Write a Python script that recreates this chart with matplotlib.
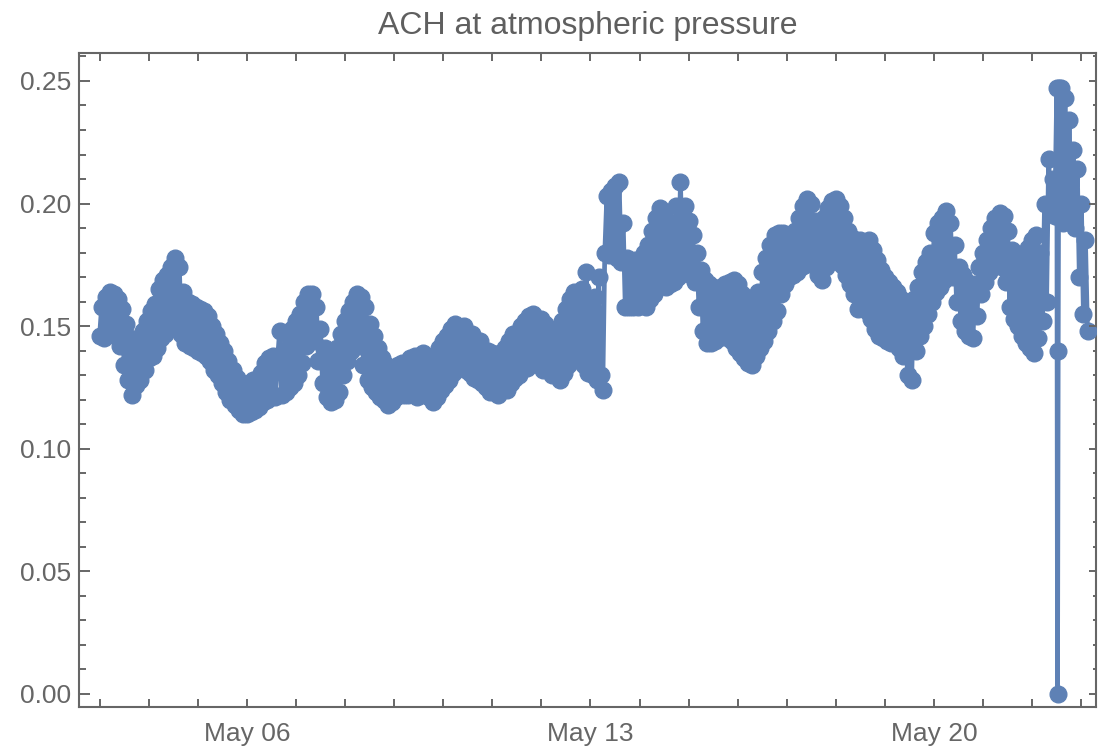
import matplotlib
matplotlib.use("Agg")
import matplotlib.pyplot as plt
import matplotlib.dates as mdates
from matplotlib.ticker import MultipleLocator, FormatStrFormatter
import pandas as pd

plt.rcParams['font.family'] = ['Liberation Sans', 'DejaVu Sans']

# Hourly air changes per hour, starting 2021-05-03 00:00
start_time = "2021-05-03 00:00"
step = "1h"
ach_may03 = [0.146, 0.158, 0.145, 0.162, 0.149, 0.164, 0.147, 0.163, 0.146, 0.161, 0.142, 0.157,
             0.134, 0.151, 0.128, 0.145, 0.122, 0.143, 0.126, 0.144, 0.128, 0.148, 0.132, 0.152]
ach_may04 = [0.137, 0.156, 0.138, 0.159, 0.141, 0.165, 0.145, 0.169, 0.147, 0.171, 0.149, 0.174,
             0.152, 0.178, 0.151, 0.174, 0.147, 0.164, 0.143, 0.160, 0.142, 0.159, 0.141, 0.158]
ach_may05 = [0.140, 0.157, 0.139, 0.156, 0.138, 0.154, 0.136, 0.150, 0.132, 0.147, 0.130, 0.143,
             0.127, 0.140, 0.123, 0.136, 0.120, 0.132, 0.118, 0.129, 0.116, 0.127, 0.114, 0.126]
ach_may06 = [0.114, 0.127, 0.115, 0.128, 0.116, 0.128, 0.117, 0.131, 0.119, 0.135, 0.120, 0.137,
             0.121, 0.138, 0.121, 0.136, 0.148, 0.122, 0.140, 0.123, 0.146, 0.125, 0.149, 0.127]
ach_may07 = [0.152, 0.130, 0.155, 0.135, 0.160, 0.142, 0.163, 0.145, 0.163, 0.144, 0.158, 0.136,
             0.149, 0.127, 0.141, 0.121, 0.136, 0.119, 0.137, 0.120, 0.141, 0.123, 0.147, 0.130]
ach_may08 = [0.152, 0.136, 0.156, 0.140, 0.160, 0.143, 0.163, 0.142, 0.162, 0.134, 0.158, 0.128,
             0.151, 0.125, 0.146, 0.123, 0.141, 0.121, 0.137, 0.120, 0.134, 0.118, 0.132, 0.119]
ach_may09 = [0.133, 0.121, 0.134, 0.123, 0.135, 0.122, 0.133, 0.122, 0.137, 0.124, 0.138, 0.121,
             0.136, 0.122, 0.139, 0.125, 0.138, 0.121, 0.135, 0.119, 0.137, 0.121, 0.141, 0.124]
ach_may10 = [0.144, 0.126, 0.146, 0.128, 0.149, 0.131, 0.151, 0.133, 0.149, 0.134, 0.150, 0.132,
             0.147, 0.131, 0.147, 0.129, 0.144, 0.128, 0.144, 0.127, 0.140, 0.125, 0.140, 0.123]
ach_may11 = [0.139, 0.124, 0.137, 0.122, 0.139, 0.125, 0.141, 0.124, 0.144, 0.127, 0.147, 0.129,
             0.146, 0.130, 0.150, 0.133, 0.152, 0.133, 0.154, 0.136, 0.155, 0.135, 0.153, 0.134]
ach_may12 = [0.153, 0.132, 0.151, 0.133, 0.149, 0.130, 0.147, 0.131, 0.149, 0.128, 0.152, 0.131,
             0.157, 0.134, 0.161, 0.136, 0.164, 0.138, 0.163, 0.137, 0.165, 0.134, 0.172, 0.131]
ach_may13 = [0.160, 0.130, 0.162, 0.128, 0.170, 0.130, 0.124, 0.180, 0.203, 0.179, 0.205, 0.180,
             0.207, 0.178, 0.209, 0.176, 0.192, 0.158, 0.178, 0.158, 0.176, 0.158, 0.177, 0.158]
ach_may14 = [0.177, 0.159, 0.180, 0.158, 0.183, 0.161, 0.189, 0.163, 0.194, 0.166, 0.198, 0.167,
             0.195, 0.166, 0.190, 0.167, 0.192, 0.168, 0.199, 0.170, 0.209, 0.172, 0.199, 0.172]
ach_may15 = [0.193, 0.171, 0.187, 0.168, 0.180, 0.158, 0.173, 0.148, 0.169, 0.143, 0.167, 0.143,
             0.166, 0.144, 0.164, 0.145, 0.166, 0.146, 0.167, 0.145, 0.168, 0.144, 0.169, 0.141]
ach_may16 = [0.167, 0.139, 0.163, 0.137, 0.160, 0.135, 0.158, 0.134, 0.159, 0.138, 0.164, 0.141,
             0.172, 0.144, 0.178, 0.148, 0.183, 0.152, 0.187, 0.156, 0.188, 0.163, 0.188, 0.167]
ach_may17 = [0.187, 0.170, 0.186, 0.171, 0.189, 0.172, 0.194, 0.174, 0.199, 0.175, 0.202, 0.177,
             0.200, 0.176, 0.193, 0.171, 0.190, 0.169, 0.194, 0.174, 0.198, 0.176, 0.201, 0.178]
ach_may18 = [0.202, 0.178, 0.199, 0.175, 0.194, 0.171, 0.189, 0.167, 0.186, 0.163, 0.185, 0.157,
             0.185, 0.158, 0.184, 0.156, 0.185, 0.153, 0.181, 0.149, 0.177, 0.146, 0.173, 0.145]
ach_may19 = [0.170, 0.144, 0.168, 0.143, 0.166, 0.143, 0.164, 0.141, 0.161, 0.138, 0.156, 0.130,
             0.155, 0.128, 0.161, 0.140, 0.166, 0.146, 0.172, 0.150, 0.176, 0.155, 0.180, 0.160]
ach_may20 = [0.188, 0.164, 0.192, 0.166, 0.194, 0.169, 0.197, 0.171, 0.192, 0.170, 0.183, 0.160,
             0.174, 0.152, 0.171, 0.148, 0.168, 0.146, 0.166, 0.145, 0.167, 0.154, 0.174, 0.163]
ach_may21 = [0.180, 0.168, 0.185, 0.172, 0.190, 0.174, 0.194, 0.176, 0.196, 0.174, 0.195, 0.168,
             0.189, 0.158, 0.181, 0.153, 0.177, 0.150, 0.176, 0.146, 0.178, 0.143, 0.182, 0.141]
ach_may22 = [0.185, 0.139, 0.187, 0.145, 0.180, 0.152, 0.200, 0.160, 0.218, 0.200, 0.210, 0.195,
             0.247, 0.247, 0.247, 0.192, 0.243, 0.195, 0.234, 0.200, 0.222, 0.190, 0.214, 0.170]
ach_may23 = [0.200, 0.155, 0.185, 0.148]

# Sensor dropout readings on May 22
dropout_times = ["2021-05-22 12:20", "2021-05-22 12:40"]
dropout_values = [0.000, 0.140]

title = "ACH at atmospheric pressure"
line_color = "#5E81B5"
frame_color = "#666666"

values = (ach_may03 + ach_may04 + ach_may05 + ach_may06 + ach_may07 + ach_may08 +
          ach_may09 + ach_may10 + ach_may11 + ach_may12 + ach_may13 + ach_may14 +
          ach_may15 + ach_may16 + ach_may17 + ach_may18 + ach_may19 + ach_may20 +
          ach_may21 + ach_may22 + ach_may23)
series = pd.Series(values, index=pd.date_range(start_time, periods=len(values), freq=step))
dropouts = pd.Series(dropout_values, index=pd.to_datetime(dropout_times))
series = pd.concat([series, dropouts]).sort_index()

fig = plt.figure(figsize=(10.98, 7.51), dpi=100)
ax = fig.add_axes([0.0719, 0.0586, 0.9263, 0.8708])

ax.plot(series.index, series.values, '-o', color=line_color, lw=3.4,
        ms=12, mec=line_color, mfc=line_color, zorder=3)

ax.set_xlim(pd.Timestamp("2021-05-02 13:55"), pd.Timestamp("2021-05-23 07:10"))
ax.set_ylim(-0.0053, 0.2614)

ax.xaxis.set_major_locator(mdates.DayLocator(bymonthday=[6, 13, 20]))
ax.xaxis.set_minor_locator(mdates.DayLocator())
ax.xaxis.set_major_formatter(mdates.DateFormatter('%b %d'))
ax.yaxis.set_major_locator(MultipleLocator(0.05))
ax.yaxis.set_minor_locator(MultipleLocator(0.01))
ax.yaxis.set_major_formatter(FormatStrFormatter('%.2f'))

for sp in ax.spines.values():
    sp.set_color(frame_color)
    sp.set_linewidth(1.5)

ax.tick_params(axis='x', which='both', direction='in', top=True, bottom=True,
               length=5.8, width=1.4, color=frame_color, labelcolor=frame_color,
               labelsize=19, pad=11)
ax.tick_params(axis='y', which='major', direction='in', left=True, right=False,
               length=7.9, width=1.4, color=frame_color, labelcolor=frame_color,
               labelsize=19, pad=5.5)
ax.tick_params(axis='y', which='minor', direction='in', left=True, right=False,
               length=5.0, width=1.4, color=frame_color)

# Shorter inward ticks on the right frame edge
ax_r = ax.twinx()
ax_r.set_ylim(ax.get_ylim())
ax_r.yaxis.set_major_locator(MultipleLocator(0.05))
ax_r.yaxis.set_minor_locator(MultipleLocator(0.01))
ax_r.tick_params(axis='y', which='major', direction='in', length=5.0, width=1.4,
                 color=frame_color, labelright=False)
ax_r.tick_params(axis='y', which='minor', direction='in', length=2.2, width=1.4,
                 color=frame_color)
for sp in ax_r.spines.values():
    sp.set_visible(False)

ax.set_title(title, fontsize=23, color="#5f5f5f", pad=14)

fig.savefig("out.png", dpi=100)
